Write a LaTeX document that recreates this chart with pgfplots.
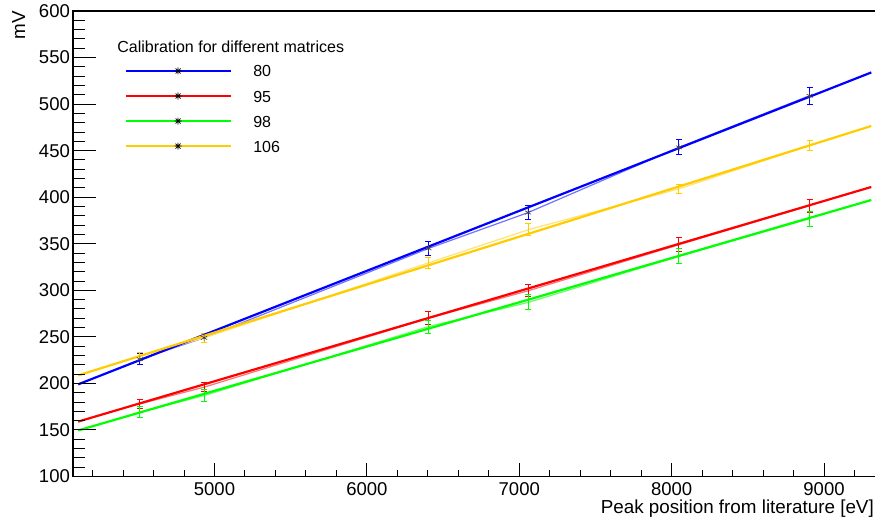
\documentclass[border=0pt]{standalone}
\usepackage{fontspec}
\setmainfont{Liberation Sans}
\usepackage{pgfplots}
\usepackage{pgfplotstable}
\pgfplotsset{compat=1.18}
\definecolor{rblue}{HTML}{0000FF}
\definecolor{rred}{HTML}{FF0000}
\definecolor{rgreen}{HTML}{00FF00}
\definecolor{ryellow}{HTML}{FFCC00}

% measured points: x = peak energy [eV], y = mV, e = error
\pgfplotstableread{
x    y     e
4510 226   6
4932 249   5
6404 345   7.5
7058 383.5 7.5
8048 453.5 8
8905 509   9
}\tblA
\pgfplotstableread{
x    y     e
4510 178   5
4932 196   5
6404 270   7
7058 299.5 6.5
8048 349   7.5
8905 391   7
}\tblB
\pgfplotstableread{
x    y     e
4510 169   6
4932 187   6
6404 261   7
7058 287   8
8048 336.5 8
8905 377   8
}\tblC
\pgfplotstableread{
x    y     e
4510 229   4
4932 249   5
6404 329.5 6
7058 365   6.5
8048 409   4.5
8905 455.5 5
}\tblD

% legend sample: coloured line with a black asterisk in the middle
\newcommand{\legimg}[1]{\addlegendimage{legend image code/.code={
  \draw[#1, line width=1.3pt] (0pt,0pt) -- (105pt,0pt);
  \draw[black, line width=0.7pt] (48.5pt,0pt) -- (55.5pt,0pt) (52pt,-3.5pt) -- (52pt,3.5pt)
    (49.5pt,-2.5pt) -- (54.5pt,2.5pt) (49.5pt,2.5pt) -- (54.5pt,-2.5pt);
  \path (127pt,0pt);}}}

\pgfplotsset{
  rootaxis/.style={
    scale only axis,
    width=802pt, height=465pt,
    xmin=4072, xmax=9341,
    ymin=100, ymax=600,
    tick align=inside,
    /pgf/number format/assume math mode=true,
    /pgf/number format/set thousands separator={},
    tick label style={font=\fontsize{18.5}{22}\selectfont},
    label style={font=\fontsize{18.8}{22}\selectfont},
    tick style={line width=1pt, black},
  },
  ebar/.style={error bars/.cd, y dir=both, y explicit,
    error mark=-,
    error bar style={#1, line width=1pt},
    error mark options={#1, line width=1pt, mark size=3pt, rotate=90}},
}

\begin{document}
\begin{tikzpicture}
\begin{axis}[
  rootaxis,
  axis line style={line width=1.8pt},
  xtick pos=bottom,
  xtick={5000,6000,7000,8000,9000},
  minor xtick={4200,4400,...,9200},
  ytick=\empty,
  major tick length=14pt, minor tick length=7pt,
  xticklabel style={inner sep=1pt, text depth=0pt, yshift=-5pt},
  xlabel={Peak position from literature [eV]},
  xlabel style={at={(rel axis cs:1,0)}, anchor=north east, inner sep=0pt, yshift=-23pt, xshift=-2pt},
  legend style={at={(rel axis cs:0,1)}, anchor=north west, xshift=52pt, yshift=-53.7pt,
    draw=none, fill=none, inner sep=0pt, row sep=13pt,
    font=\fontsize{16}{19}\selectfont,
    nodes={inner sep=0pt, text height=12pt, text depth=0pt}},
  legend cell align=left,
]

% point-to-point graphs with error bars
\addplot[rblue!55, line width=1.2pt, forget plot, ebar=rblue]
  table[x=x, y=y, y error=e] {\tblA};
\addplot[rred!55, line width=1.2pt, forget plot, ebar=rred]
  table[x=x, y=y, y error=e] {\tblB};
\addplot[rgreen!60, line width=1.2pt, forget plot, ebar=rgreen]
  table[x=x, y=y, y error=e] {\tblC};
\addplot[ryellow!55, line width=1.2pt, forget plot, ebar=ryellow]
  table[x=x, y=y, y error=e] {\tblD};

% linear fits
\addplot[rblue, line width=2.2pt, forget plot] coordinates {(4105,199) (9310,534)};
\addplot[rred, line width=2.2pt, forget plot] coordinates {(4105,159) (9310,411)};
\addplot[rgreen, line width=2.2pt, forget plot] coordinates {(4105,149.5) (9310,397)};
\addplot[ryellow, line width=2.2pt, forget plot] coordinates {(4105,208.6) (9310,476.5)};

% markers
\addplot[only marks, mark=asterisk, mark size=3.5pt, black!75, line width=0.6pt, forget plot]
  table[x=x, y=y] {\tblA};

\legimg{rblue}\addlegendentry{80}
\legimg{rred}\addlegendentry{95}
\legimg{rgreen}\addlegendentry{98}
\legimg{ryellow}\addlegendentry{106}

\node[anchor=base west, inner sep=0pt, font=\fontsize{16}{19}\selectfont, xshift=44pt, yshift=-41.5pt]
  at (rel axis cs:0,1) {Calibration for different matrices};
\end{axis}

% second axis: y ticks only (ROOT uses longer ticks on this axis)
\begin{axis}[
  rootaxis,
  axis line style={draw=none},
  xtick=\empty,
  ytick pos=left,
  ytick={100,150,...,600},
  minor ytick={110,120,...,590},
  major tick length=23pt, minor tick length=12pt,
  yticklabel style={inner sep=3pt},
  ylabel={mV},
  ylabel style={at={(rel axis cs:-0.07606,1)}, anchor=north east, inner sep=0pt},
]
\end{axis}
\pgfresetboundingbox
\path[use as bounding box] ([xshift=-73pt,yshift=-44pt]current axis.south west) rectangle ([xshift=-1pt,yshift=11pt]current axis.north east);
\end{tikzpicture}
\end{document}
